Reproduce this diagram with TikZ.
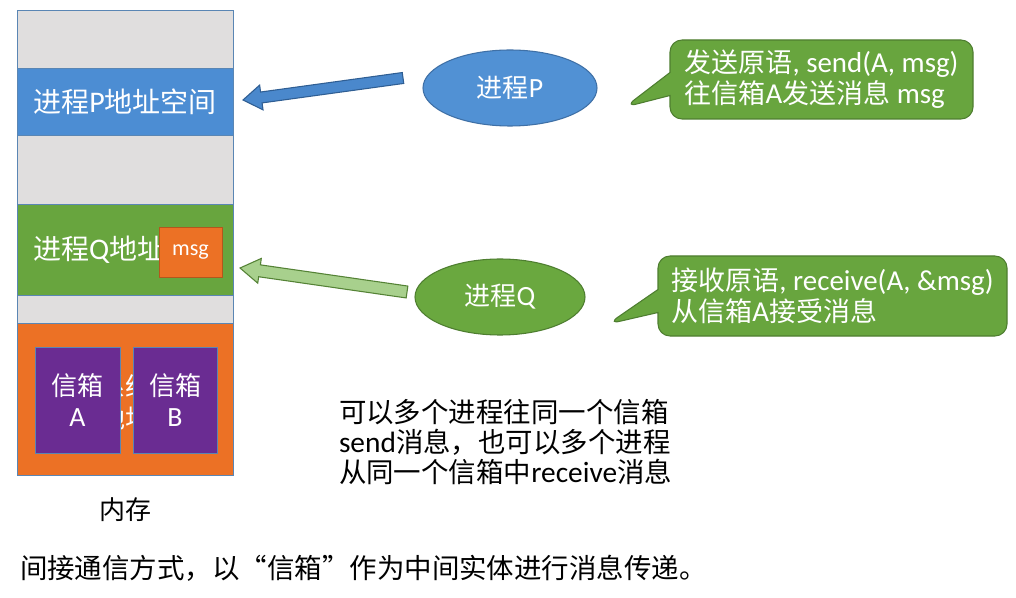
\documentclass[tikz,border=0pt]{standalone}
\usepackage{fontspec}
\setmainfont{Noto Sans CJK SC}
\newfontfamily\lt[Scale=1.07]{Carlito}
\usetikzlibrary{shapes.geometric,shapes.callouts,calc}
\definecolor{memgray}{HTML}{E0DEDE}
\definecolor{memborder}{HTML}{5A86B4}
\definecolor{segblue}{HTML}{4C8DD3}
\definecolor{seggreen}{HTML}{68A53E}
\definecolor{segorange}{HTML}{EC7125}
\definecolor{msgborder}{HTML}{B4561C}
\definecolor{boxpurple}{HTML}{6A2C92}
\definecolor{ellblue}{HTML}{5191D4}
\definecolor{ellblueb}{HTML}{3F70A6}
\definecolor{ellgreen}{HTML}{6AA83F}
\definecolor{ellgreenb}{HTML}{4E7E30}
\definecolor{arrblue}{HTML}{4A88CC}
\definecolor{arrblueb}{HTML}{2F5E93}
\definecolor{arrgreen}{HTML}{A8D08D}
\definecolor{arrgreenb}{HTML}{548235}
\tikzset{
  seg/.style={draw=memborder, line width=0.7pt, minimum width=216*0.75pt, text=white},
  big/.style={font=\fontsize{21pt}{25pt}\selectfont},
  mailbox/.style={draw=memborder, line width=0.7pt, fill=boxpurple, text=white, minimum width=85*0.75pt, minimum height=106*0.75pt, align=center, font=\fontsize{19.5pt}{23.5pt}\selectfont},
  proc/.style={ellipse, line width=0.8pt, text=white, font=\fontsize{19.5pt}{23pt}\selectfont},
  bubble/.style={rectangle callout, rounded corners=9pt, fill=seggreen, draw=ellgreenb, line width=0.8pt, text=white, align=left, callout pointer width=23*0.75pt, font=\fontsize{20.25pt}{23.3pt}\selectfont},
  blockblue/.style={fill=arrblue, draw=arrblueb, line width=0.8pt, line join=miter},
  blockgreen/.style={fill=arrgreen, draw=arrgreenb, line width=0.8pt, line join=miter}
}
\begin{document}
\begin{tikzpicture}[x=0.75pt,y=-0.75pt, every node/.style={inner sep=0pt, outer sep=0pt}]
\useasboundingbox[fill=white] (0,0) rectangle (1016,598);

% memory column
\node[seg, fill=memgray, minimum height=58*0.75pt] (g1) at (125,39) {};
\node[seg, fill=segblue, minimum height=67*0.75pt, big] (pspace) at (125,101.5) {进程{\lt P}地址空间};
\node[seg, fill=memgray, minimum height=69*0.75pt] (g2) at (125,169.5) {};
\node[seg, fill=seggreen, minimum height=91*0.75pt] (qspace) at (125,249.5) {};
\node[big, text=white, anchor=west] (qtext) at (33,250) {进程{\lt Q}地址};
\node[fill=segorange, draw=msgborder, line width=0.7pt, minimum width=63*0.75pt, minimum height=50*0.75pt, text=white, font=\lt\fontsize{15.5pt}{17pt}\selectfont] (msg) at (190.5,252) {msg};
\node[seg, fill=memgray, minimum height=28*0.75pt] (g3) at (125,309) {};
\node[seg, fill=segorange, minimum height=152*0.75pt] (sys) at (125,399) {};
\node[text=white, align=center, font=\fontsize{19.5pt}{24pt}\selectfont] (systext) at (125,402) {系统\\地址};
\node[mailbox] (boxA) at (77.5,400) {信箱\\{\lt A}};
\node[mailbox, minimum width=84*0.75pt] (boxB) at (175,400) {信箱\\{\lt B}};
\node[font=\fontsize{19.5pt}{23pt}\selectfont] (mem) at (125,510) {内存};

% processes
\node[proc, fill=ellblue, draw=ellblueb, minimum width=174*0.75pt, minimum height=76*0.75pt] (P) at (510,88) {进程{\lt P}};
\node[proc, fill=ellgreen, draw=ellgreenb, minimum width=170*0.75pt, minimum height=76*0.75pt] (Q) at (500,297) {进程{\lt Q}};

% block arrows
\coordinate (ptail) at (403,78);
\coordinate (qtail) at (407,292);
\begin{scope}[shift={(ptail)}, rotate=187.83]
  \draw[blockblue] (0,-5.5) -- (143,-5.5) -- (143,-12.5) -- (161.5,0) -- (143,12.5) -- (143,5.5) -- (0,5.5) -- cycle;
\end{scope}
\begin{scope}[shift={(qtail)}, rotate=171.82]
  \draw[blockgreen] (0,-6) -- (149,-6) -- (149,-12.5) -- (168.7,0) -- (149,12.5) -- (149,6) -- (0,6) -- cycle;
\end{scope}

% callouts
\coordinate (tip1) at (625,107);
\coordinate (tip2) at (608,324);
\node[bubble, minimum width=303*0.75pt, minimum height=79*0.75pt, callout absolute pointer={(tip1)}] (send) at (821.5,79.5)
  {发送原语{\lt, send(A, msg)}\\往信箱{\lt A}发送消息{\lt\ msg}};
\node[bubble, minimum width=349*0.75pt, minimum height=80*0.75pt, callout absolute pointer={(tip2)}] (recv) at (832.5,296)
  {接收原语{\lt, receive(A, \&msg)}\\从信箱{\lt A}接受消息};

% notes
\node[anchor=west, align=left, font=\fontsize{20.6pt}{22.5pt}\selectfont] (note) at (339,442)
  {可以多个进程往同一个信箱\\{\lt send}消息，也可以多个进程\\从同一个信箱中{\lt receive}消息};
\node[anchor=west, font=\fontsize{20.6pt}{24pt}\selectfont] (caption) at (20,568)
  {间接通信方式，以“信箱”作为中间实体进行消息传递。};
\end{tikzpicture}
\end{document}
